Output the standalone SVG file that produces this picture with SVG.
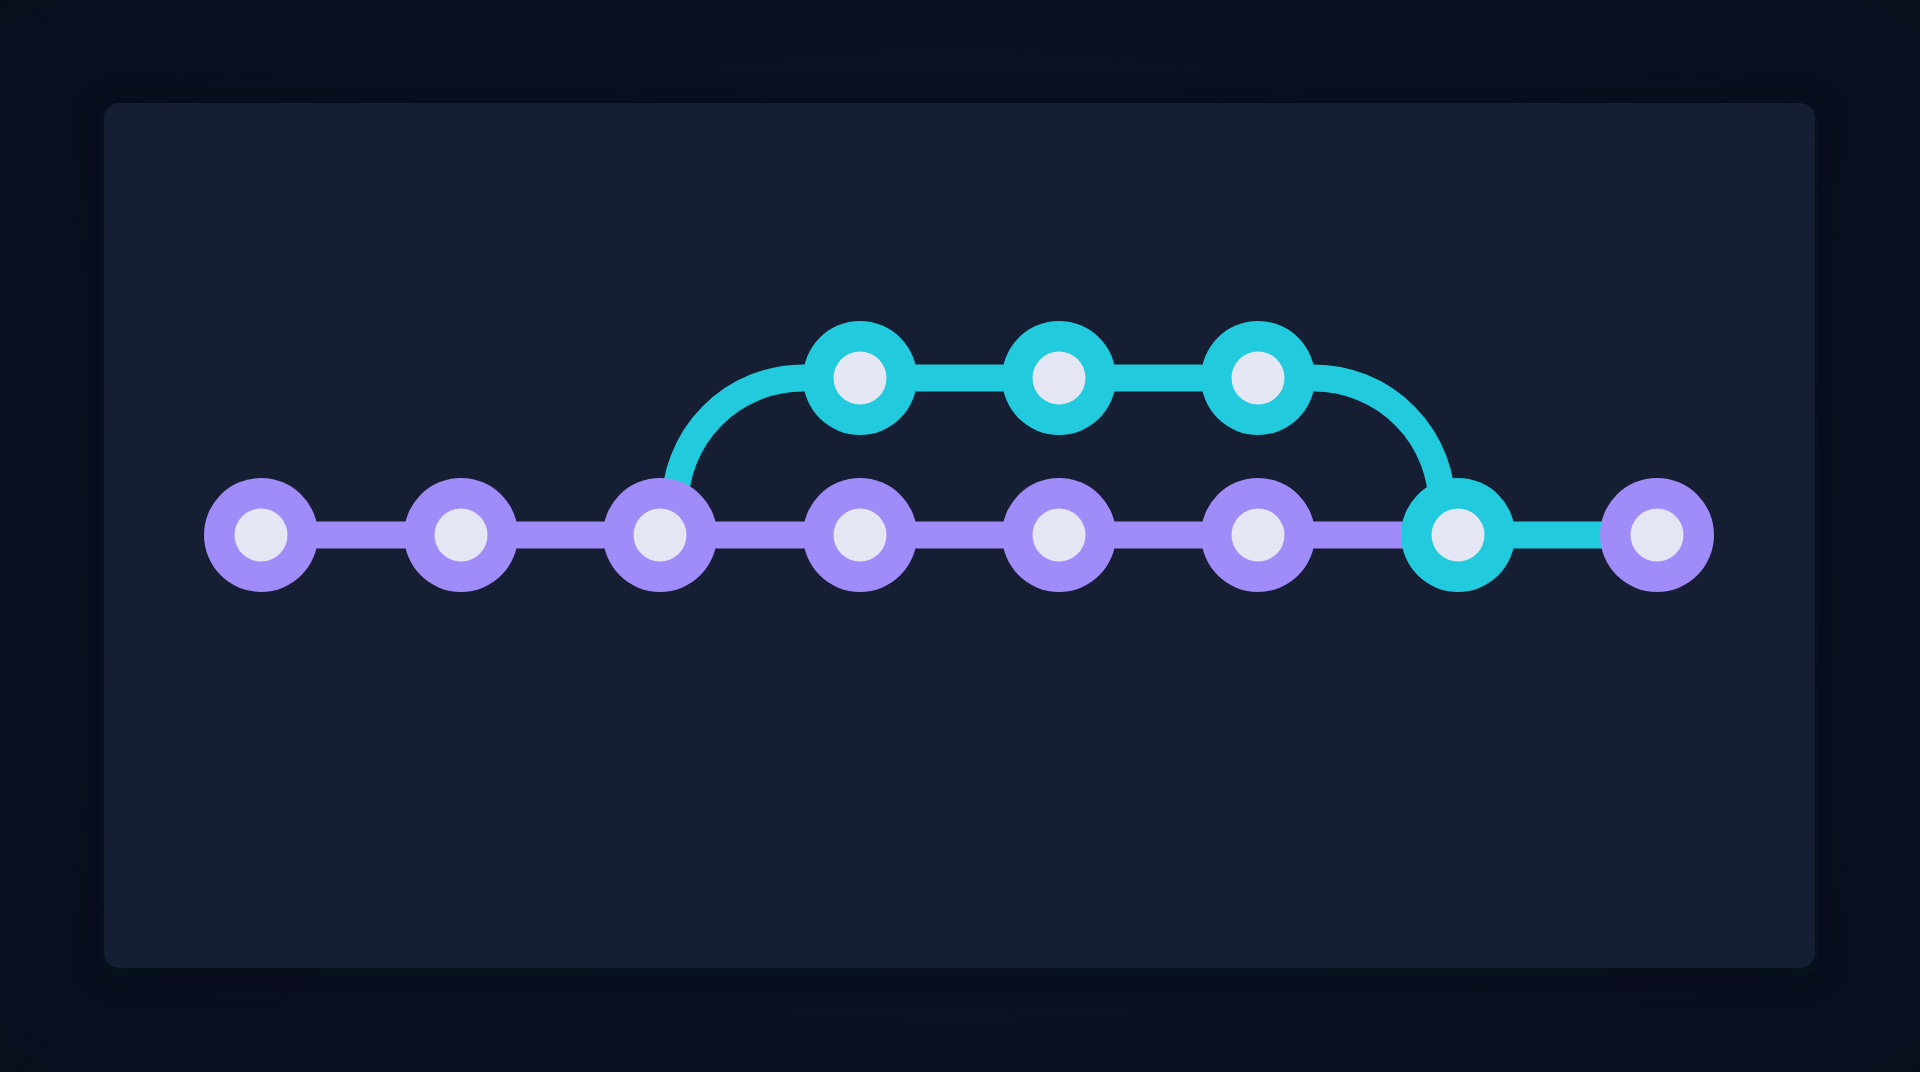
<svg xmlns="http://www.w3.org/2000/svg" width="1920" height="1072" viewBox="0 0 1920 1072">
  <defs>
    <radialGradient id="bg" cx="50%" cy="50%" r="75%">
      <stop offset="0" stop-color="#0d1427"/>
      <stop offset="1" stop-color="#090e1d"/>
    </radialGradient>
    <filter id="shadow" x="-10%" y="-10%" width="120%" height="120%">
      <feGaussianBlur stdDeviation="14"/>
    </filter>
    <style>
      .purple { fill: #a08cf8; }
      .cyan { fill: #22cadd; }
      .inner { fill: #e4e7f3; }
      .lp { stroke: #a08cf8; stroke-width: 27; fill: none; }
      .lc { stroke: #22cadd; stroke-width: 27; fill: none; }
    </style>
  </defs>
  <rect x="0" y="0" width="1920" height="1072" fill="url(#bg)"/>
  <rect x="100" y="104" width="1719" height="872" rx="17" fill="#060a15" opacity="0.5" filter="url(#shadow)"/>
  <rect x="104" y="103" width="1711" height="865" rx="15" fill="#161e33"/>

  <g id="connectors">
    <path class="lp" d="M261 535 L1458 535"/>
    <path class="lc" d="M1458 535 L1657 535"/>
    <path class="lc" d="M675 534 L675 508 A128 128 0 0 1 803 378 L1314 378 A128 128 0 0 1 1442 508 L1442 534"/>
  </g>

  <g id="n1"><circle class="purple" cx="261" cy="535" r="57"/><circle class="inner" cx="261" cy="535" r="26.5"/></g>
  <g id="n2"><circle class="purple" cx="461" cy="535" r="57"/><circle class="inner" cx="461" cy="535" r="26.5"/></g>
  <g id="n3"><circle class="purple" cx="660" cy="535" r="57"/><circle class="inner" cx="660" cy="535" r="26.5"/></g>
  <g id="n4"><circle class="purple" cx="860" cy="535" r="57"/><circle class="inner" cx="860" cy="535" r="26.5"/></g>
  <g id="n5"><circle class="purple" cx="1059" cy="535" r="57"/><circle class="inner" cx="1059" cy="535" r="26.5"/></g>
  <g id="n6"><circle class="purple" cx="1258" cy="535" r="57"/><circle class="inner" cx="1258" cy="535" r="26.5"/></g>
  <g id="n7"><circle class="cyan" cx="1458" cy="535" r="57"/><circle class="inner" cx="1458" cy="535" r="26.5"/></g>
  <g id="n8"><circle class="purple" cx="1657" cy="535" r="57"/><circle class="inner" cx="1657" cy="535" r="26.5"/></g>
  <g id="b1"><circle class="cyan" cx="860" cy="378" r="57"/><circle class="inner" cx="860" cy="378" r="26.5"/></g>
  <g id="b2"><circle class="cyan" cx="1059" cy="378" r="57"/><circle class="inner" cx="1059" cy="378" r="26.5"/></g>
  <g id="b3"><circle class="cyan" cx="1258" cy="378" r="57"/><circle class="inner" cx="1258" cy="378" r="26.5"/></g>
</svg>
